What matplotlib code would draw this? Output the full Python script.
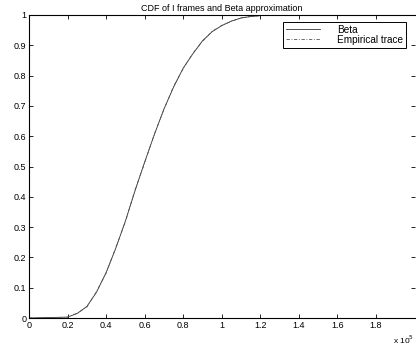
import matplotlib
matplotlib.use("Agg")
import matplotlib.pyplot as plt

# x in units of 1e5
x_beta = [0.0, 0.2, 0.25, 0.3, 0.35, 0.4, 0.45, 0.5, 0.55, 0.6, 0.65, 0.7, 0.75,
          0.8, 0.85, 0.9, 0.95, 1.0, 1.05, 1.1, 1.15, 1.2, 1.3, 2.0]
cdf_beta = [0.0, 0.003, 0.015, 0.038, 0.085, 0.15, 0.23, 0.32, 0.42, 0.515, 0.605,
            0.69, 0.762, 0.825, 0.872, 0.915, 0.945, 0.965, 0.98, 0.99, 0.995, 0.998, 1.0, 1.0]
x_emp = [0.0, 0.19, 0.25, 0.3, 0.35, 0.4, 0.45, 0.5, 0.55, 0.6, 0.65, 0.7, 0.75,
         0.8, 0.85, 0.9, 0.95, 1.0, 1.05, 1.1, 1.15, 1.2, 1.3, 2.0]
cdf_emp = [0.0, 0.0, 0.016, 0.036, 0.087, 0.148, 0.232, 0.318, 0.423, 0.512, 0.607,
           0.688, 0.765, 0.823, 0.874, 0.913, 0.946, 0.966, 0.979, 0.991, 0.995, 0.998, 1.0, 1.0]
xticks = [0, 0.2, 0.4, 0.6, 0.8, 1, 1.2, 1.4, 1.6, 1.8]
xticklabels = ["0", "0.2", "0.4", "0.6", "0.8", "1", "1.2", "1.4", "1.6", "1.8"]
yticks = [0, 0.1, 0.2, 0.3, 0.4, 0.5, 0.6, 0.7, 0.8, 0.9, 1]
yticklabels = ["0", "0.1", "0.2", "0.3", "0.4", "0.5", "0.6", "0.7", "0.8", "0.9", "1"]

plt.rcParams['font.family'] = ['Liberation Sans', 'DejaVu Sans']

fig = plt.figure(figsize=(4.16, 3.5), dpi=100)
ax = fig.add_axes([29/416, 32/350, 385.6/416, 303/350])

ax.plot(x_beta, cdf_beta, color='#333333', lw=0.6, linestyle='-', label='Beta')
ax.plot(x_emp, cdf_emp, color='#555555', lw=0.6, linestyle=(0, (4, 2, 1, 2)), label='Empirical trace')

ax.set_xlim(0, 2)
ax.set_ylim(0, 1)
ax.set_xticks(xticks)
ax.set_xticklabels(xticklabels)
ax.set_yticks(yticks)
ax.set_yticklabels(yticklabels)
ax.tick_params(direction='in', length=3, width=0.6, labelsize=6.5, pad=2,
               top=True, right=True)
for s in ax.spines.values():
    s.set_linewidth(0.8)
ax.spines['right'].set_visible(False)

ax.set_title('CDF of I frames and Beta approximation', fontsize=6.5, pad=3)

leg = ax.legend(loc='upper left', bbox_to_anchor=(0.659, 0.978), fontsize=7.2,
                frameon=True, fancybox=False, edgecolor='black', framealpha=1,
                handlelength=3.4, labelspacing=0.0, borderpad=0.3,
                handletextpad=1.7, borderaxespad=0)
leg.get_frame().set_linewidth(0.7)

fig.text(393/416, 4/350, 'x 10$^5$', fontsize=6, ha='left', va='bottom')

fig.savefig('out.png', dpi=100)
